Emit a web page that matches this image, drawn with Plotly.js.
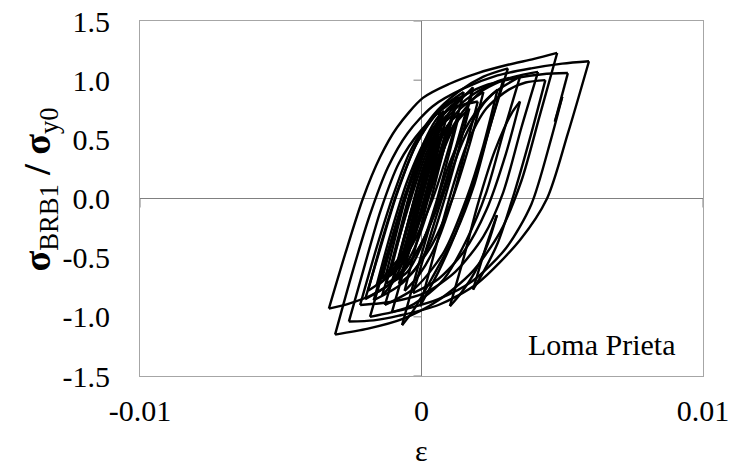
<!DOCTYPE html>
<html>
<head>
<meta charset="utf-8">
<script src="https://cdn.plot.ly/plotly-3.0.1.min.js"></script>
<style>html,body{margin:0;padding:0;background:#fff;}</style>
</head>
<body>
<div id="chart" style="width:738px;height:472px;"></div>
<script>
// strain values in units of 10^-3
const strainE3 = [
0, 0.20, 0.38, 0.10, -0.22, 0.10, 0.45, 0.62, 0.30, -0.15, -0.50, -0.20, 0.20, 0.50, 0.66,
0.40, 0.00, -0.40, -0.75, -0.95,
-0.50, 0.00, 0.50, 0.94,
0.60, 0.10, -0.50, -1.05, -1.40,
-0.90, -0.40, 0.20, 0.90, 1.83,
1.30, 0.70, 0.00, -0.80, -1.80, -2.60, -3.29,
-2.70, -2.08, -1.47, -0.87, 0.05, 1.00, 2.00, 3.07, 4.00, 4.82,
4.20, 3.55, 2.80, 1.80, 0.60, -0.69, -1.90, -3.07,
-2.45, -1.85, -1.20, -0.50, 0.40, 1.50, 2.70, 3.90, 5.00, 5.95,
5.20, 4.46, 3.50, 1.97, 0.60, -0.80, -1.70, -2.58,
-2.00, -1.45, -0.80, 0.00, 1.00, 2.20, 3.40, 4.30, 5.20,
4.74, 5.00,
4.60, 3.90, 3.00, 1.80, 0.60, -0.50, -1.83,
-1.25, -0.70, -0.10, 0.70, 1.60, 2.60, 3.50, 4.14,
3.55, 2.90, 2.20, 1.20, 0.10, -1.00, -2.18,
-1.60, -1.00, -0.40, 0.40, 1.30, 2.20, 3.07,
2.45, 1.85, 1.20, 0.40, -0.30, -0.69,
-0.15, 0.40, 1.00, 1.70, 2.50, 3.50,
2.90, 2.30, 1.60, 0.80, 0.00, -0.50, -1.05,
-0.50, 0.05, 0.60, 1.30, 2.10, 2.90,
2.40, 1.80, 1.20, 0.60, 0.20, -0.05,
0.50, 1.05, 1.60, 2.30, 3.10, 3.70, 4.40,
3.90, 3.30, 2.70, 2.20, 1.83,
2.30, 2.68,
2.36, 1.90, 1.40, 1.01,
1.50, 2.00, 2.60, 3.20, 3.50,
3.00, 2.30, 1.50, 0.60, -0.30,
0.20, 0.80, 1.50, 2.20, 2.70,
2.20, 1.60, 0.80, -0.20, -1.30,
-0.80, -0.20, 0.50, 1.30, 2.20,
1.70, 1.10, 0.30, -0.70, -1.70,
-1.20, -0.60, 0.10, 0.90, 1.83,
1.30, 0.70, -0.10, -1.00, -2.00,
-1.50, -0.90, -0.20, 0.60, 1.50,
1.00, 0.40, -0.40, -1.20, -1.90,
-1.40, -0.80, -0.10, 0.70, 1.30,
0.80, 0.20, -0.50, -1.20, -1.60,
-1.10, -0.50, 0.20, 0.90, 1.20,
0.70, 0.10, -0.60, -1.20, -1.40,
-0.90, -0.30, 0.30, 0.90, 2.00,
1.60, 1.10, 0.50, -0.10, -0.60,
-0.20, 0.30, 0.80, 1.30, 1.70,
1.30, 0.80, 0.30, -0.30, -0.80,
-0.40, 0.10, 0.60, 1.00, 1.35,
0.95, 0.50, 0.00, -0.50, -1.00,
-0.60, -0.10, 0.40, 0.80, 1.10,
0.70, 0.25, -0.25, -0.80, -1.25,
-0.85, -0.35, 0.15, 0.55, 0.90,
0.50, 0.05, -0.45, -0.95, -1.30,
-0.90, -0.40, 0.10, 0.50, 0.80,
0.45, 0.00, -0.50, -0.90, -1.10,
-0.70, -0.20, 0.30, 0.70,
0.35, -0.10, -0.50, -0.85,
-0.45, 0.00, 0.45, 0.75,
0.40, 0.00, -0.40, -0.70,
-0.30, 0.10, 0.50,
0.15, -0.20, -0.50,
-0.15, 0.20, 0.40,
0.10, -0.20,
0.10, 0.25,
0.05
];
// normalised stress sigma_BRB1 / sigma_y0
const stressRatio = [
0, 0.18, 0.33, 0.08, -0.20, 0.12, 0.42, 0.55, 0.28, -0.12, -0.42, -0.15, 0.25, 0.55, 0.74,
0.48, 0.12, -0.25, -0.52, -0.62,
-0.22, 0.18, 0.45, 0.62,
0.35, -0.05, -0.45, -0.72, -0.82,
-0.42, -0.02, 0.40, 0.70, 0.94,
0.50, 0.02, -0.38, -0.66, -0.82, -0.89, -0.93,
-0.46, 0.00, 0.35, 0.60, 0.85, 0.97, 1.06, 1.13, 1.18, 1.23,
0.70, 0.15, -0.28, -0.62, -0.86, -1.02, -1.10, -1.15,
-0.62, -0.15, 0.26, 0.55, 0.78, 0.93, 1.04, 1.10, 1.14, 1.16,
0.55, 0.00, -0.35, -0.72, -0.90, -0.99, -1.03, -1.04,
-0.55, -0.10, 0.30, 0.58, 0.80, 0.95, 1.02, 1.05, 1.06,
0.65, 0.86,
0.50, -0.05, -0.42, -0.70, -0.85, -0.93, -1.00,
-0.52, -0.08, 0.30, 0.62, 0.84, 0.98, 1.04, 1.07,
0.60, 0.05, -0.32, -0.62, -0.80, -0.87, -0.90,
-0.42, 0.03, 0.40, 0.70, 0.90, 1.03, 1.10,
0.62, 0.10, -0.30, -0.66, -0.95, -1.07,
-0.60, -0.15, 0.30, 0.65, 0.88, 1.03,
0.55, 0.05, -0.35, -0.68, -0.85, -0.92, -0.96,
-0.50, -0.05, 0.35, 0.68, 0.90, 1.00,
0.58, 0.10, -0.30, -0.62, -0.80, -0.91,
-0.42, 0.05, 0.45, 0.76, 0.92, 0.98, 1.00,
0.55, 0.05, -0.38, -0.62, -0.77,
-0.40, -0.14,
-0.38, -0.62, -0.80, -0.91,
-0.50, -0.05, 0.40, 0.72, 0.82,
0.38, -0.10, -0.45, -0.68, -0.80,
-0.40, 0.05, 0.50, 0.80, 0.92,
0.45, 0.00, -0.45, -0.75, -0.90,
-0.50, -0.02, 0.42, 0.74, 0.90,
0.45, 0.00, -0.42, -0.72, -0.86,
-0.45, 0.02, 0.45, 0.75, 0.92,
0.48, 0.02, -0.42, -0.70, -0.85,
-0.45, 0.02, 0.45, 0.74, 0.90,
0.45, 0.00, -0.42, -0.66, -0.78,
-0.35, 0.10, 0.50, 0.76, 0.86,
0.42, -0.02, -0.42, -0.66, -0.74,
-0.30, 0.15, 0.52, 0.74, 0.80,
0.38, -0.05, -0.44, -0.62, -0.68,
-0.25, 0.20, 0.52, 0.74, 0.82,
0.45, 0.00, -0.40, -0.65, -0.78,
-0.40, 0.05, 0.42, 0.66, 0.76,
0.40, -0.02, -0.38, -0.62, -0.72,
-0.35, 0.10, 0.45, 0.64, 0.72,
0.35, -0.05, -0.40, -0.62, -0.70,
-0.32, 0.12, 0.46, 0.64, 0.70,
0.33, -0.08, -0.42, -0.64, -0.72,
-0.35, 0.10, 0.45, 0.62, 0.70,
0.32, -0.10, -0.45, -0.62, -0.68,
-0.30, 0.15, 0.48, 0.66, 0.74,
0.42, 0.00, -0.38, -0.56, -0.62,
-0.25, 0.18, 0.50, 0.66,
0.34, -0.08, -0.40, -0.55,
-0.18, 0.22, 0.50, 0.60,
0.28, -0.08, -0.38, -0.50,
-0.15, 0.20, 0.50,
0.20, -0.10, -0.35,
-0.02, 0.28, 0.42,
0.15, -0.12,
0.12, 0.25,
0.08
];
const xTickVals = [-0.01, 0, 0.01];
const xTickText = ['-0.01', '0', '0.01'];
const yTickVals = [-1.5, -1.0, -0.5, 0, 0.5, 1.0, 1.5];
const yTickText = ['-1.5', '-1.0', '-0.5', '0.0', '0.5', '1.0', '1.5'];
const xTitle = 'ε';
const yTitle = '<b>σ</b><sub>BRB1</sub><b> / σ</b><sub>y0</sub>';
const recordLabel = 'Loma Prieta';

const strain = strainE3.map(v => v / 1000);

// split the path at each load reversal so every branch is smoothed on its own
const traces = [];
let start = 0;
for (let i = 1; i < stressRatio.length; i++) {
  const last = i === stressRatio.length - 1;
  const turn = !last && (stressRatio[i] - stressRatio[i - 1]) * (stressRatio[i + 1] - stressRatio[i]) < 0;
  if (turn || last) {
    traces.push({
      x: strain.slice(start, i + 1), y: stressRatio.slice(start, i + 1),
      type: 'scatter', mode: 'lines',
      line: {color: '#000', width: 2.4, shape: 'spline', smoothing: 0.8},
      hoverinfo: 'skip'
    });
    start = i;
  }
}

const FONT = '"Times New Roman", Times, "Liberation Serif", "DejaVu Serif", serif';

const shapes = [];
yTickVals.forEach(v => shapes.push({
  type: 'line', xref: 'x', yref: 'y', xsizemode: 'pixel', xanchor: 0,
  x0: -8, x1: 0, y0: v, y1: v, line: {color: '#808080', width: 1}, layer: 'below'
}));
xTickVals.forEach(v => shapes.push({
  type: 'line', xref: 'x', yref: 'y', ysizemode: 'pixel', yanchor: 0,
  x0: v, x1: v, y0: -9, y1: 0, line: {color: '#808080', width: 1}, layer: 'below'
}));

const layout = {
  width: 738, height: 472,
  margin: {l: 140, r: 35, t: 21, b: 96, pad: 0},
  paper_bgcolor: '#fff', plot_bgcolor: '#fff',
  font: {family: FONT, size: 30, color: '#000'},
  showlegend: false,
  xaxis: {
    range: [-0.01, 0.01], tickmode: 'array', tickvals: xTickVals, ticktext: xTickText,
    showgrid: false, zeroline: true, zerolinecolor: '#808080', zerolinewidth: 1,
    showline: true, mirror: true, linecolor: '#a6a6a6', linewidth: 1,
    ticks: 'outside', ticklen: 8, tickcolor: 'rgba(0,0,0,0)',
    tickfont: {family: FONT, size: 30, color: '#000'},
    automargin: false, fixedrange: true
  },
  yaxis: {
    range: [-1.5, 1.5], tickmode: 'array', tickvals: yTickVals, ticktext: yTickText,
    showgrid: false, zeroline: true, zerolinecolor: '#808080', zerolinewidth: 1,
    showline: true, mirror: true, linecolor: '#a6a6a6', linewidth: 1,
    ticks: 'outside', ticklen: 23, tickcolor: 'rgba(0,0,0,0)',
    tickfont: {family: FONT, size: 30, color: '#000'},
    automargin: false, fixedrange: true
  },
  shapes: shapes,
  annotations: [
    {
      text: recordLabel, xref: 'paper', yref: 'paper', x: 0.819, y: 0.09,
      xanchor: 'center', yanchor: 'middle', showarrow: false,
      font: {family: FONT, size: 30, color: '#000'}
    },
    {
      text: xTitle, xref: 'paper', yref: 'paper', x: 0.5, y: -0.211,
      xanchor: 'center', yanchor: 'middle', showarrow: false,
      font: {family: FONT, size: 30, color: '#000'}
    },
    {
      text: yTitle, xref: 'paper', yref: 'paper', x: -0.178, y: 0.525,
      xanchor: 'center', yanchor: 'middle', showarrow: false, textangle: -90,
      font: {family: FONT, size: 38, color: '#000'}
    }
  ]
};

Plotly.newPlot('chart', traces, layout, {displayModeBar: false, staticPlot: true});
</script>
</body>
</html>
